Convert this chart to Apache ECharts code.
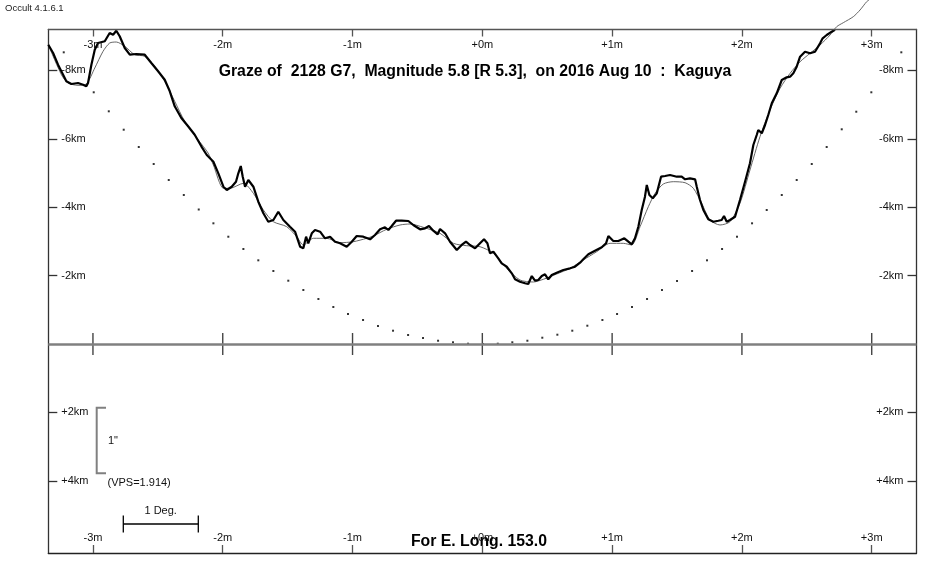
<!DOCTYPE html>
<html>
<head>
<meta charset="utf-8">
<script src="https://cdn.jsdelivr.net/npm/echarts@6/dist/echarts.min.js"></script>
<style>
  html, body { margin: 0; padding: 0; background: #fff; }
  #chart { width: 950px; height: 580px; }
</style>
</head>
<body>
<div id="chart"></div>
<script>
// ---- tick labels ----
const minuteTicks = [-3, -2, -1, 0, 1, 2, 3];
const kmTicks = [-8, -6, -4, -2, 2, 4];

// ---- observed limb profile (black) : minutes, km ----
const profileMin = [-3.344,-3.307,-3.269,-3.230,-3.205,-3.166,-3.115,-3.076,-3.051,-3.038,
-3.012,-2.986,-2.961,-2.909,-2.871,-2.845,-2.820,-2.794,-2.755,-2.716,
-2.666,-2.601,-2.550,-2.498,-2.447,-2.408,-2.370,-2.319,-2.267,-2.216,
-2.165,-2.123,-2.072,-2.034,-1.995,-1.969,-1.931,-1.898,-1.880,-1.861,
-1.846,-1.828,-1.803,-1.764,-1.726,-1.687,-1.649,-1.610,-1.572,-1.533,
-1.482,-1.443,-1.404,-1.379,-1.358,-1.341,-1.314,-1.289,-1.250,-1.212,
-1.173,-1.135,-1.096,-1.045,-1.006,-0.968,-0.917,-0.865,-0.827,-0.788,
-0.750,-0.724,-0.698,-0.665,-0.621,-0.570,-0.532,-0.480,-0.441,-0.411,
-0.378,-0.344,-0.326,-0.287,-0.249,-0.197,-0.159,-0.126,-0.095,-0.056,
-0.018,0.013,0.039,0.059,0.085,0.123,0.149,0.188,0.227,0.252,
0.290,0.329,0.354,0.381,0.406,0.431,0.458,0.483,0.508,0.535,
0.573,0.624,0.676,0.714,0.753,0.778,0.817,0.868,0.920,0.953,
0.971,1.009,1.048,1.094,1.125,1.151,1.176,1.202,1.228,1.253,
1.267,1.287,1.313,1.344,1.377,1.408,1.446,1.498,1.536,1.562,
1.600,1.639,1.652,1.677,1.703,1.741,1.780,1.818,1.844,1.862,
1.883,1.908,1.947,1.985,2.024,2.062,2.088,2.114,2.126,2.153,
2.178,2.203,2.230,2.268,2.307,2.345,2.371,2.396,2.422,2.448,
2.486,2.525,2.563,2.602,2.622,2.653,2.692,2.717];
const profileKm = [-8.752,-8.509,-8.167,-7.874,-7.681,-7.602,-7.632,-7.582,-7.535,-7.632,
-8.167,-8.605,-8.801,-8.851,-9.094,-9.044,-9.161,-8.997,-8.655,-8.459,
-8.480,-8.459,-8.216,-7.974,-7.728,-7.389,-6.950,-6.608,-6.366,-6.120,
-5.781,-5.526,-5.330,-4.991,-4.599,-4.503,-4.599,-4.746,-4.991,-5.205,
-4.892,-4.599,-4.795,-4.599,-4.161,-3.822,-3.576,-3.626,-3.868,-3.626,
-3.430,-3.284,-2.845,-2.798,-3.137,-2.944,-3.237,-3.333,-3.284,-3.091,
-3.137,-2.991,-2.944,-2.845,-2.991,-3.158,-3.137,-3.061,-3.187,-3.354,
-3.412,-3.333,-3.450,-3.605,-3.605,-3.597,-3.480,-3.354,-3.383,-3.450,
-3.313,-3.208,-3.363,-3.237,-2.991,-2.749,-2.895,-2.991,-2.895,-2.798,
-2.944,-3.061,-2.944,-2.652,-2.699,-2.506,-2.360,-2.260,-2.067,-1.892,
-1.822,-1.775,-1.754,-1.988,-1.851,-1.871,-1.988,-2.038,-1.892,-2.018,
-2.085,-2.164,-2.213,-2.260,-2.377,-2.477,-2.623,-2.728,-2.827,-2.944,
-3.158,-3.012,-3.012,-3.091,-2.991,-2.915,-3.091,-3.430,-3.918,-4.307,
-4.649,-4.357,-4.260,-4.406,-4.892,-4.912,-4.942,-4.892,-4.892,-4.816,
-4.845,-4.816,-4.599,-4.211,-3.918,-3.646,-3.576,-3.605,-3.626,-3.743,
-3.576,-3.626,-3.722,-4.211,-4.746,-5.284,-5.819,-6.111,-6.257,-6.161,
-6.404,-6.696,-7.038,-7.330,-7.719,-7.798,-7.816,-7.915,-8.108,-8.401,
-8.547,-8.500,-8.547,-8.792,-8.939,-9.035,-9.132,-9.190];

// ---- smoothed profile (grey) ----
const smoothMin = [-3.344,-3.243,-3.192,-3.115,-3.051,-2.986,-2.922,-2.871,-2.820,-2.755,
-2.678,-2.601,-2.524,-2.447,-2.370,-2.293,-2.190,-2.113,-2.072,-1.995,
-1.944,-1.841,-1.764,-1.687,-1.610,-1.507,-1.430,-1.379,-1.302,-1.199,
-1.096,-0.994,-0.891,-0.840,-0.737,-0.634,-0.557,-0.455,-0.326,-0.223,
-0.120,-0.018,0.085,0.188,0.290,0.393,0.470,0.573,0.676,0.778,
0.881,0.984,1.086,1.151,1.215,1.279,1.331,1.394,1.471,1.562,
1.626,1.690,1.754,1.831,1.908,1.985,2.062,2.139,2.216,2.294,
2.371,2.448,2.525,2.602,2.679,2.730,2.781,2.858,2.910,2.961,2.979];
const smoothKm = [-8.752,-7.874,-7.632,-7.564,-7.602,-8.070,-8.559,-8.801,-8.830,-8.705,
-8.459,-8.412,-8.120,-7.681,-7.096,-6.512,-5.974,-5.585,-5.234,-4.553,
-4.553,-4.699,-4.406,-3.918,-3.576,-3.430,-3.137,-2.895,-3.091,-3.091,
-2.962,-2.991,-3.091,-3.158,-3.354,-3.480,-3.509,-3.412,-3.237,-2.944,
-2.874,-2.845,-2.652,-2.213,-1.871,-1.813,-1.892,-2.047,-2.213,-2.456,
-2.699,-2.944,-2.944,-2.895,-3.430,-4.015,-4.406,-4.678,-4.746,-4.716,
-4.553,-4.114,-3.626,-3.480,-3.576,-4.114,-5.088,-6.061,-6.842,-7.477,
-7.915,-8.254,-8.500,-8.743,-9.035,-9.278,-9.395,-9.570,-9.766,-10.009,-10.058];

// ---- mean-limb dots ----
const limbMin = [-3.225,-2.994,-2.878,-2.763,-2.647,-2.532,-2.416,-2.300,-2.185,-2.072,
-1.957,-1.841,-1.726,-1.610,-1.495,-1.379,-1.263,-1.148,-1.035,-0.919,
-0.804,-0.688,-0.572,-0.457,-0.341,-0.226,-0.110,0.005,0.119,0.231,
0.347,0.462,0.578,0.693,0.809,0.925,1.038,1.153,1.269,1.384,
1.500,1.616,1.731,1.847,1.962,2.078,2.191,2.307,2.422,2.538,
2.653,2.769,2.881,2.997,3.228];
const limbKm = [-8.529,-7.360,-6.804,-6.266,-5.760,-5.263,-4.795,-4.357,-3.933,-3.529,
-3.137,-2.778,-2.447,-2.135,-1.851,-1.579,-1.316,-1.082,-0.877,-0.702,
-0.526,-0.389,-0.263,-0.175,-0.096,-0.050,-0.009,0,-0.009,-0.050,
-0.096,-0.184,-0.272,-0.389,-0.535,-0.702,-0.877,-1.082,-1.316,-1.579,
-1.842,-2.135,-2.447,-2.778,-3.137,-3.529,-3.918,-4.357,-4.795,-5.263,
-5.760,-6.278,-6.792,-7.360,-8.529];

const titleText = 'Graze of  2128 G7,  Magnitude 5.8 [R 5.3],  on 2016 Aug 10  :  Kaguya';
const footText = 'For E. Long. 153.0';
const versionText = 'Occult 4.1.6.1';

const zip = (a, b) => a.map((v, i) => [v, b[i]]);
const FONT = '"Liberation Sans", Arial, sans-serif';
const minFmt = v => (v < 0 ? '' + v : '+' + v) + 'm';
const kmFmt = v => (v < 0 ? '' + v : '+' + v) + 'km';

const X_MIN = -3.344, X_MAX = 3.345, Y_MIN = -9.196, Y_MAX = 6.111;

function xAxisDef(pos, tickLen, lineColor) {
  return {
    type: 'value', position: pos, min: X_MIN, max: X_MAX,
    z: 10,
    axisLine: { show: true, onZero: false, lineStyle: { color: lineColor, width: 1.3 } },
    axisTick: { show: true, inside: true, length: tickLen, customValues: minuteTicks,
      lineStyle: { color: '#555', width: 1.3 } },
    axisLabel: { show: true, inside: true, margin: 10, customValues: minuteTicks,
      formatter: minFmt, color: '#111', fontSize: 11, fontFamily: FONT },
    splitLine: { show: false }
  };
}
function yAxisDef(pos) {
  return {
    type: 'value', position: pos, inverse: true, min: Y_MIN, max: Y_MAX,
    axisLine: { show: true, onZero: false, lineStyle: { color: '#333', width: 1.3 } },
    axisTick: { show: true, inside: true, length: 9, customValues: kmTicks,
      lineStyle: { color: '#333', width: 1.3 } },
    axisLabel: { show: true, inside: true, margin: 13, customValues: kmTicks,
      formatter: kmFmt, color: '#111', fontSize: 11, fontFamily: FONT },
    splitLine: { show: false }
  };
}

const chart = echarts.init(document.getElementById('chart'), null, { renderer: 'canvas' });
chart.setOption({
  animation: false,
  backgroundColor: '#fff',
  grid: { left: 48.3, right: 33.5, top: 29.5, bottom: 27, containLabel: false },
  xAxis: [ xAxisDef('bottom', 8, '#222'), xAxisDef('top', 7, '#555') ],
  yAxis: [ yAxisDef('left'), yAxisDef('right') ],
  graphic: [
    { type: 'text', left: 5, top: 3, style: { text: versionText, font: '9.5px ' + FONT, fill: '#222' } },
    { type: 'text', x: 475, y: 71.5, style: { text: titleText, font: 'bold 15.8px ' + FONT, fill: '#000',
        align: 'center', verticalAlign: 'middle' } },
    { type: 'text', x: 479, y: 541.5, z: -1, style: { text: footText, font: 'bold 15.8px ' + FONT, fill: '#000',
        align: 'center', verticalAlign: 'middle' } },
    { type: 'polyline', shape: { points: [[106, 407.7], [96.7, 407.7], [96.7, 473.3], [106, 473.3]] },
      style: { stroke: '#808080', lineWidth: 2, fill: null } },
    { type: 'text', x: 108, y: 440.7, style: { text: '1"', font: '11px ' + FONT, fill: '#111', verticalAlign: 'middle' } },
    { type: 'text', x: 107.5, y: 483.3, style: { text: '(VPS=1.914)', font: '11px ' + FONT, fill: '#111', verticalAlign: 'middle' } },
    { type: 'polyline', shape: { points: [[123.3, 524], [198.3, 524]] }, style: { stroke: '#000', lineWidth: 1.3, fill: null } },
    { type: 'line', shape: { x1: 123.3, y1: 515.5, x2: 123.3, y2: 532.5 }, style: { stroke: '#000', lineWidth: 1.3 } },
    { type: 'line', shape: { x1: 198.3, y1: 515.5, x2: 198.3, y2: 532.5 }, style: { stroke: '#000', lineWidth: 1.3 } },
    { type: 'text', x: 160.7, y: 511, style: { text: '1 Deg.', font: '11px ' + FONT, fill: '#111', align: 'center', verticalAlign: 'middle' } }
  ],
  series: [
    {
      type: 'scatter', name: 'limb', data: zip(limbMin, limbKm),
      symbol: 'rect', symbolSize: 2, itemStyle: { color: '#000' }, silent: true, z: 2
    },
    {
      type: 'custom', name: 'zeroTicks', silent: true, z: 4,
      data: minuteTicks.map(m => [m, 0]),
      renderItem: (params, api) => {
        const p = api.coord([api.value(0), api.value(1)]);
        return { type: 'line', shape: { x1: p[0], y1: p[1] - 11, x2: p[0], y2: p[1] + 11 },
          style: { stroke: '#444', lineWidth: 1.4 } };
      }
    },
    {
      type: 'line', name: 'smooth', data: zip(smoothMin, smoothKm),
      showSymbol: false, smooth: 0.25, clip: false, silent: true, z: 3,
      lineStyle: { color: '#666', width: 1 },
      markLine: { silent: true, symbol: 'none', label: { show: false },
        lineStyle: { color: '#808080', width: 2.5, type: 'solid' },
        data: [{ yAxis: 0 }] }
    },
    {
      type: 'line', name: 'profile', data: zip(profileMin, profileKm),
      showSymbol: false, clip: false, silent: true, z: 5,
      lineStyle: { color: '#000', width: 2.2 }
    }
  ]
});
</script>
</body>
</html>
